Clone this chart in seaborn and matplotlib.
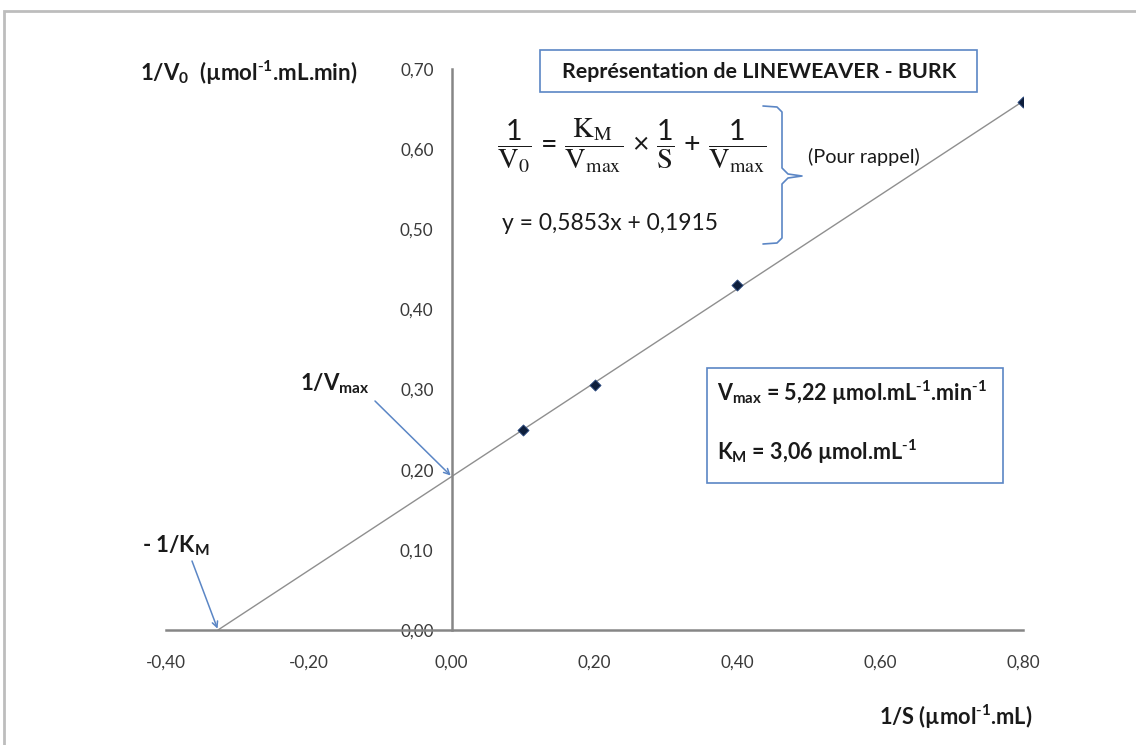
"""
Lineweaver-Burk plot: 1/V0 versus 1/S with linear trend line.
Output : out.png (1136x745)
"""

import numpy as np
import pandas as pd
import matplotlib
matplotlib.use("Agg")
import matplotlib.pyplot as plt
from matplotlib.patches import Rectangle
from matplotlib.ticker import FuncFormatter
import seaborn as sns

# ---------------------------------------------------------------------------
# Data
# ---------------------------------------------------------------------------
inv_s  = [0.10, 0.20, 0.40, 0.80]          # 1/S  (µmol-1.mL)
inv_v0 = [0.250, 0.306, 0.431, 0.659]       # 1/V0 (µmol-1.mL.min)

slope     = 0.5853
intercept = 0.1915

x_ticks = [-0.40, -0.20, 0.00, 0.20, 0.40, 0.60, 0.80]
y_ticks = [0.00, 0.10, 0.20, 0.30, 0.40, 0.50, 0.60, 0.70]

W, H = 1136, 745
BLUE  = "#5b86c5"
GRAY  = "#868686"
TXT   = "#3a3a3a"
INK   = "#1a1a1a"
SUP   = r"$^{\text{-}1}$"     # short hyphen superscript, like the original


def fx(px):
    return px / W


def fy(py):
    return 1 - py / H


sns.set_style("white")
plt.rcParams["font.family"] = ["Lato", "DejaVu Sans"]
plt.rcParams["mathtext.default"] = "regular"

fig = plt.figure(figsize=(W / 100, H / 100), dpi=100)
ax = fig.add_axes([fx(166), fy(630), fx(1023) - fx(166), fy(69) - fy(630)])

# ---- trend line + points --------------------------------------------------
x0 = -intercept / slope
line_df = pd.DataFrame({"x": [x0, max(inv_s)]})
line_df["y"] = slope * line_df["x"] + intercept
sns.lineplot(data=line_df, x="x", y="y", ax=ax, color="#8f8f8f", lw=1.0)

pts = pd.DataFrame({"x": inv_s, "y": inv_v0})
sns.scatterplot(data=pts, x="x", y="y", ax=ax, marker="D", s=32,
                color="#0d1e3c", edgecolor="#2a4a80", linewidth=0.6, zorder=5)

# ---- axes -----------------------------------------------------------------
ax.set_xlim(x_ticks[0], x_ticks[-1])
ax.set_ylim(y_ticks[0], y_ticks[-1])
ax.set_xticks(x_ticks)
ax.set_yticks(y_ticks)
fmt = FuncFormatter(lambda v, _: f"{v:.2f}".replace(".", ","))
ax.xaxis.set_major_formatter(fmt)
ax.yaxis.set_major_formatter(fmt)
ax.set_xlabel("")
ax.set_ylabel("")

for side in ("top", "right"):
    ax.spines[side].set_visible(False)
ax.spines["left"].set_position(("data", 0))
ax.spines["bottom"].set_position(("data", 0))
for side in ("left", "bottom"):
    ax.spines[side].set_color(GRAY)
    ax.spines[side].set_linewidth(1.8)
ax.tick_params(axis="both", direction="out", length=5, width=1.2,
               color=GRAY, labelcolor=TXT, labelsize=12.3)
ax.tick_params(axis="x", pad=13)
ax.tick_params(axis="y", pad=8)
ax.patch.set_alpha(0)

# ---- outer chart frame ----------------------------------------------------
fig.patches.append(Rectangle((fx(4), fy(760)), fx(1150) - fx(4), fy(11) - fy(760),
                             transform=fig.transFigure, fill=False,
                             edgecolor="#bdbdbd", lw=2))

# ---- axis titles ----------------------------------------------------------
fig.text(fx(140), fy(73), r"1/V$_0$  (µmol" + SUP + ".mL.min)", fontsize=16,
         fontweight="bold", color=INK, va="center", ha="left")
fig.text(fx(956), fy(717), r"1/S (µmol" + SUP + ".mL)", fontsize=15.7,
         fontweight="bold", color=INK, va="center", ha="center")

# ---- title box ------------------------------------------------------------
fig.patches.append(Rectangle((fx(540), fy(92)), fx(977) - fx(540), fy(50) - fy(92),
                             transform=fig.transFigure, fill=False,
                             edgecolor=BLUE, lw=1.2))
fig.text(fx(759), fy(72), "Représentation de LINEWEAVER - BURK", fontsize=15.4,
         fontweight="bold", color=INK, va="center", ha="center")

# ---- equation + brace -----------------------------------------------------
fig.text(fx(497), fy(146),
         r"$\dfrac{1}{\mathrm{V_0}}\,=\,\dfrac{\mathrm{K_M}}{\mathrm{V_{max}}}"
         r"\,\times\,\dfrac{1}{\mathrm{S}}\,+\,\dfrac{1}{\mathrm{V_{max}}}$",
         fontsize=20.5, math_fontfamily="stix", color=INK,
         va="center", ha="left")
fig.text(fx(502), fy(223), "y = 0,5853x + 0,1915", fontsize=16.5,
         color=INK, va="center", ha="left")
fig.text(fx(808), fy(157), "(Pour rappel)", fontsize=14.3,
         color=INK, va="center", ha="left")

brace_x = [763, 777, 782, 782, 788, 802, 788, 782, 782, 777, 763]
brace_y = [106, 107, 112, 168, 174, 176, 178, 184, 238, 243, 244]
fig.lines.append(plt.Line2D([fx(v) for v in brace_x], [fy(v) for v in brace_y],
                            transform=fig.transFigure, color=BLUE, lw=1.2))

# ---- result box -----------------------------------------------------------
fig.patches.append(Rectangle((fx(707), fy(483)), fx(1003) - fx(707), fy(368) - fy(483),
                             transform=fig.transFigure, fill=False,
                             edgecolor=BLUE, lw=1.2))
fig.text(fx(717), fy(393), r"V$_{max}$ = 5,22 µmol.mL" + SUP + ".min" + SUP,
         fontsize=15.5, fontweight="bold", color=INK, va="center", ha="left")
fig.text(fx(717), fy(452), r"K$_M$ = 3,06 µmol.mL" + SUP,
         fontsize=15.5, fontweight="bold", color=INK, va="center", ha="left")

# ---- intercept annotations ------------------------------------------------
fig.text(fx(300), fy(384), r"1/V$_{max}$", fontsize=16, fontweight="bold",
         color=INK, va="center", ha="left")
ax.annotate("", xy=(0, intercept), xycoords="data",
            xytext=(375, H - 401), textcoords="figure pixels",
            arrowprops=dict(arrowstyle="->", color=BLUE, lw=1.1,
                            shrinkA=0, shrinkB=1))

fig.text(fx(142), fy(546), r"- 1/K$_M$", fontsize=16, fontweight="bold",
         color=INK, va="center", ha="left")
ax.annotate("", xy=(x0, 0), xycoords="data",
            xytext=(192, H - 561), textcoords="figure pixels",
            arrowprops=dict(arrowstyle="->", color=BLUE, lw=1.1,
                            shrinkA=0, shrinkB=1))

fig.savefig("out.png", dpi=100)
plt.close(fig)
